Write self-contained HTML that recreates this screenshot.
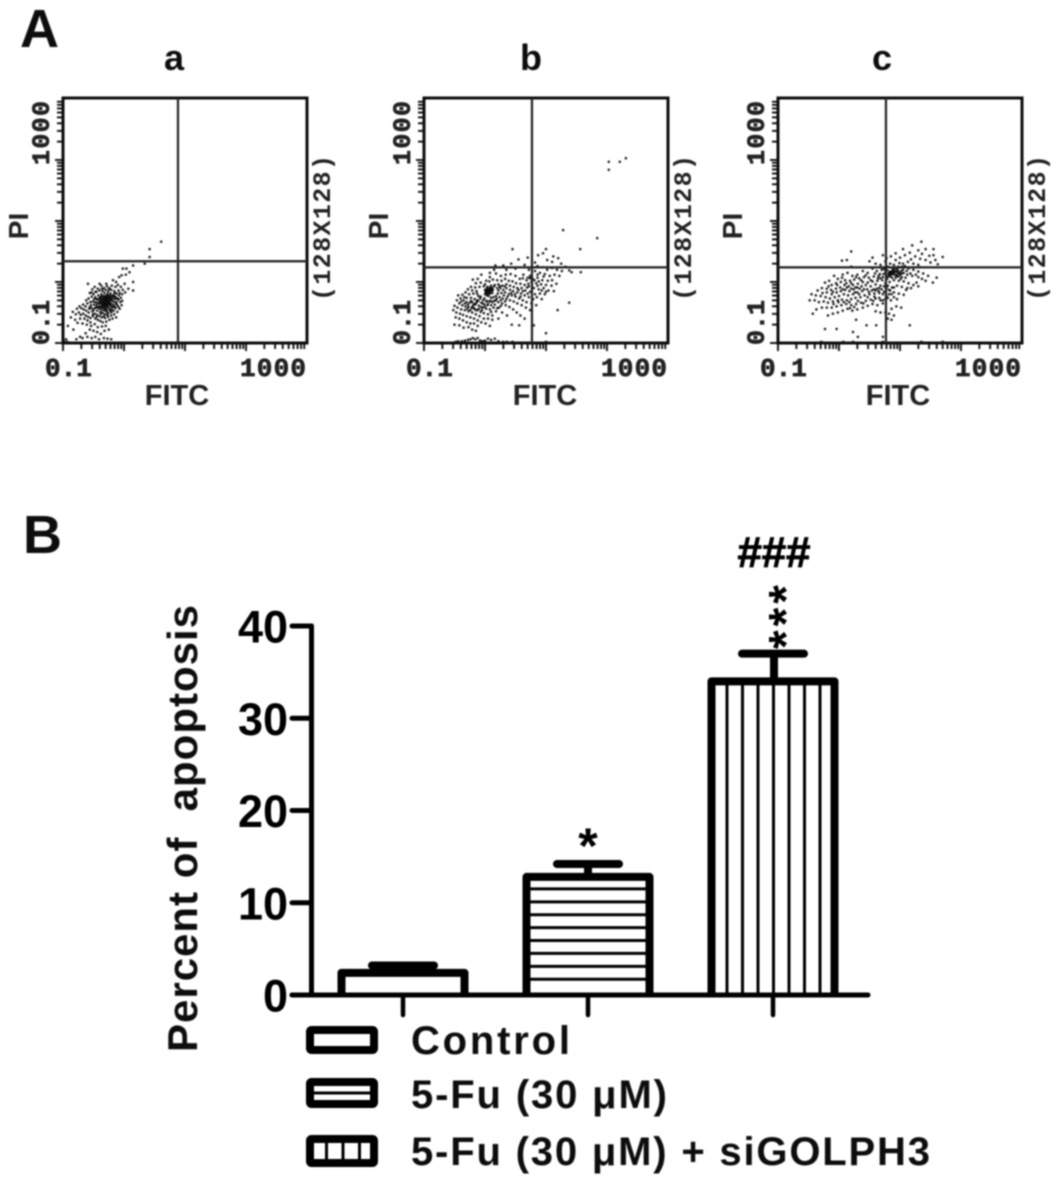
<!DOCTYPE html>
<html lang="en">
<head>
<meta charset="utf-8">
<title>Flow cytometry apoptosis figure</title>
<style>
  html, body { margin: 0; padding: 0; background: #fff; }
  svg { display: block; font-family: "Liberation Sans", sans-serif; }
  .mono { font-family: "Liberation Mono", monospace; }
</style>
</head>
<body>
<svg id="figure" xmlns="http://www.w3.org/2000/svg" width="1063" height="1188" viewBox="0 0 1063 1188">
  <defs>
    <filter id="soft" x="-5%" y="-5%" width="110%" height="110%"><feGaussianBlur stdDeviation="0.7"/></filter>
  </defs>
  <rect width="1063" height="1188" fill="#fff"/>
  <g id="root" filter="url(#soft)">
    <text x="20" y="47" font-size="54" font-weight="bold" fill="#111">A</text>
    <text x="23" y="553" font-size="54" font-weight="bold" fill="#111">B</text>
    <g id="flow"></g>
    <g id="bars"></g>
  </g>
</svg>
<script>
// ---------- Panel A: flow cytometry events, as [log10 FITC, log10 PI] ----------
const flowDecades = [-1, 0, 1, 2];
const flowMultipliers = [1, 2, 3, 4, 5, 6, 7, 8, 9];
const flowXLabels = ["0.1", "1000"];
const flowYLabels = ["0.1", "1000"];
const subplotTitles = ["a", "b", "c"];
const gateA = [0.885, 0.34];
const gateB = [0.77, 0.24];
const gateC = [0.77, 0.24];

const eventsA = [
[.61,.66],[.42,.54],[.42,.41],[.34,.30],[.15,.27],[.04,.22],[-.02,.22],[.09,.16],[-.04,.11],[.15,0],[.15,-.14],[.07,-.11],[.01,-.03],[-.13,0],[-.18,.03],[-.29,-.03],[-.4,-.03],[-.59,-.03],[-.48,-.08],[.03,.12],[-.08,.08],[-.1,-.05],[-.05,-.08],[-.02,-.13],[-.09,-.14],[-.14,-.08],[-.2,-.06],[-.24,-.1],[-.28,-.07],[-.33,-.1],[-.37,-.06],[-.43,-.11],[-.52,-.12],[-.56,-.18],[-.5,-.2],[-.45,-.16],[-.4,-.14],[-.35,-.15],[-.3,-.13],[-.26,-.16],[-.21,-.13],[-.16,-.15],[-.12,-.19],[-.08,-.22],[-.17,-.21],[-.22,-.19],[-.27,-.2],[-.32,-.18],[-.37,-.2],[-.42,-.22],[-.47,-.25],[-.53,-.24],[-.58,-.27],[-.62,-.3],
[-.31,-.34],[-.3,-.33],[-.29,-.32],[-.32,-.33],[-.33,-.35],[-.3,-.35],[-.28,-.34],[-.27,-.31],[-.26,-.3],[-.29,-.3],[-.31,-.31],[-.34,-.32],[-.35,-.34],[-.33,-.37],[-.31,-.37],[-.29,-.36],[-.27,-.36],[-.25,-.33],[-.24,-.29],[-.27,-.28],[-.3,-.28],[-.33,-.29],[-.36,-.31],[-.37,-.35],[-.36,-.38],[-.34,-.4],[-.31,-.39],[-.28,-.39],[-.25,-.37],[-.23,-.34],[-.22,-.3],[-.23,-.26],[-.26,-.25],[-.29,-.25],[-.32,-.26],[-.35,-.27],[-.38,-.28],[-.4,-.32],[-.41,-.36],[-.39,-.4],[-.37,-.42],[-.33,-.43],[-.29,-.42],[-.26,-.41],[-.22,-.39],[-.2,-.36],[-.19,-.31],[-.19,-.27],[-.2,-.23],[-.24,-.22],[-.28,-.22],[-.34,-.23],[-.39,-.25],[-.43,-.29],[-.44,-.34],[-.45,-.38],[-.43,-.42],[-.4,-.44],[-.36,-.46],[-.32,-.47],[-.28,-.46],[-.24,-.44],[-.2,-.42],[-.17,-.38],[-.16,-.33],[-.15,-.28],[-.14,-.24],
[-.1,-.27],[-.12,-.33],[-.11,-.38],[-.14,-.43],[-.17,-.47],[-.21,-.5],[-.26,-.51],[-.31,-.53],[-.35,-.51],[-.39,-.49],[-.44,-.47],[-.48,-.43],[-.49,-.37],[-.51,-.32],[-.55,-.33],[-.54,-.38],[-.53,-.43],[-.52,-.48],[-.48,-.52],[-.44,-.54],[-.4,-.56],[-.36,-.58],[-.31,-.59],[-.26,-.57],[-.21,-.55],[-.16,-.53],[-.11,-.49],[-.07,-.44],[-.04,-.38],[-.03,-.31],[-.05,-.26],[-.6,-.35],[-.63,-.4],[-.67,-.37],[-.7,-.43],[-.66,-.45],[-.62,-.47],[-.58,-.5],[-.57,-.44],[-.73,-.4],[-.77,-.44],[-.74,-.5],[-.71,-.54],[-.67,-.52],[-.63,-.55],[-.59,-.57],[-.55,-.59],[-.51,-.56],[-.47,-.6],[-.43,-.62],[-.39,-.64],[-.35,-.66],[-.29,-.65],[-.24,-.62],[-.19,-.6],[-.13,-.58],[-.55,-.66],[-.6,-.63],[-.65,-.6],[-.72,-.6],[-.79,-.53],[-.84,-.49],[-.87,-.58],[-.8,-.62],[-.76,-.67],[-.68,-.68],[-.61,-.7],[-.54,-.72],[-.48,-.69],[-.43,-.74],[-.36,-.73],[-.3,-.72],[-.92,-.72],[-.83,-.78],[-.56,-.78],[-.5,-.8],[-.44,-.82],[-.38,-.85],[-.32,-.8],[-.25,-.78],[-.63,-.84],[-.72,-.9],[-.78,-.94],[-.68,-.92],[-.6,-.9],[-.53,-.92],[-.47,-.9],[-.41,-.94],[-.33,-.92],[-.27,-.93],[-.21,-.94],[-1,-1],[-.98,-.97],[-.96,-1],[-.93,-.98],[-.95,-.94],[-.9,-1],[-.86,-1],
[-.38,-.31],[-.42,-.41],[-.47,-.33],[-.28,-.49],[-.23,-.47],[-.18,-.41],[-.13,-.36],[-.41,-.27],[-.35,-.41],[-.24,-.36],[-.21,-.27],[-.26,-.33],[-.34,-.36],[-.39,-.34],[-.31,-.44],[-.46,-.42],[-.5,-.46],[-.56,-.41],[-.51,-.53],[-.45,-.57],[-.38,-.52],[-.33,-.56],[-.27,-.54],[-.2,-.46],[-.15,-.41],[-.09,-.41],[-.06,-.33],[-.09,-.29],[-.13,-.27],[-.17,-.24],[-.23,-.23],[-.31,-.23],[-.37,-.24],[-.45,-.28],[-.49,-.28],[-.07,-.18],[-.03,-.2],[.02,-.17],[-.15,-.18],[-.25,-.12],[-.36,-.11],[-.47,-.16],[-.53,-.17]
];

const eventsB = [
[2.03,1.97],[2.03,1.84],[2.21,1.97],[2.31,2.03],[1.28,.85],[1.84,.72],[1.56,.54],[.45,.54],[1.0,.54],[1.38,-.34],[1.19,-.46],[1.0,-.84],[1,-.98],[.8,-.71],[1.57,.16],[1.38,.19],[1.42,.16],[.7,.4],[.55,.37],[.87,.44],[.95,.47],[1.12,.42],[1.2,.39],[1.1,.33],[1.25,.3],[1.32,.25],[1.02,.36],[.82,.32],[.65,.28],[.43,.3],[.3,.27],[.17,.27],[.15,.2],[.08,.15],[.35,.2],[.5,.22],[.72,.2],[.86,.26],[.95,.24],[1.02,.2],[1.1,.23],[1.18,.2],[1.26,.18],[1.22,.1],[1.14,.12],[1.06,.1],[.98,.13],[.9,.15],[.82,.18],[.74,.1],[.78,.05],[.86,.07],[.94,.03],[1.03,.02],[1.1,.03],[1.17,-.03],[1.09,-.06],[1.0,-.05],[.92,-.04],[.84,-.02],[.76,0],[.7,.07],[.63,.12],[.57,.05],[.5,.1],[.42,.13],[.34,.12],[.26,.1],[.18,.14],[.08,.08],[.02,.02],[-.06,.12],[-.12,.05],[-.2,.04],[-.15,-.02],[-.07,-.01],[.0,-.04],[.07,.01],[.13,.04],[.2,.03],[.27,.02],[.33,.05],[.39,.02],[.45,.01],[.51,-.02],[.58,-.03],[.65,-.05],[.72,-.07],[.8,-.1],[.88,-.12],[.96,-.1],[1.04,-.14],[1.13,-.15],[.9,-.19],[.82,-.2],[.74,-.16],[.66,-.14],[.6,-.1],[.53,-.1],[.47,-.08],[.41,-.06],[.35,-.04],[.28,-.06],[.22,-.04],[.16,-.05],[.1,-.06],[.04,-.08],[-.02,-.07],[-.09,-.08],[-.16,-.09],[-.23,-.08],[-.28,-.12],[-.21,-.14],[-.14,-.15],
[.07,-.14],[.08,-.13],[.06,-.15],[.09,-.15],[.05,-.13],[.1,-.12],[.04,-.16],[.07,-.17],[.11,-.15],[.03,-.14],[.06,-.12],[.09,-.11],[.02,-.18],[.05,-.19],[.08,-.19],[.12,-.18],[.13,-.13],[.12,-.1],[.08,-.09],[.03,-.11],[0,-.13],[.01,-.16],[.0,-.2],[.03,-.22],[.06,-.23],[.1,-.26],[.14,-.25],[.18,-.23],[.21,-.19],[.22,-.14],[.25,-.1],[.3,-.13],[.35,-.1],[.41,-.13],[.46,-.15],[.53,-.17],[.59,-.19],[.65,-.22],[.72,-.25],[.79,-.28],[.85,-.25],[.93,-.28],[.98,-.2],[.33,-.17],[.39,-.2],[.44,-.22],[.5,-.24],[.56,-.27],[.62,-.3],[.68,-.33],[.76,-.35],[.84,-.38],[.27,-.18],[.24,-.25],[.29,-.27],[.35,-.28],[.41,-.3],[.47,-.32],[.53,-.35],[.6,-.38],[.67,-.42],[.74,-.46],[.18,-.3],[.22,-.33],[.28,-.35],[.34,-.38],[.4,-.41],[.46,-.45],[.52,-.5],[.58,-.55],[.65,-.6],[.56,-.71],[.44,-.7],[.36,-.55],[.28,-.5],[.23,-.42],[.16,-.37],[.12,-.33],[.07,-.32],[.02,-.32],[-.03,-.3],[-.08,-.27],[-.11,-.23],[-.13,-.19],[-.19,-.19],[-.26,-.2],[-.32,-.17],[-.37,-.21],[-.3,-.26],[-.23,-.26],[-.17,-.28],[-.11,-.31],[-.06,-.34],[-.01,-.37],[.04,-.38],[.1,-.38],[.14,-.42],[.08,-.45],[.02,-.44],[-.04,-.42],[-.1,-.39],[-.15,-.36],[-.18,-.36],[-.21,-.33],[-.25,-.34],[-.3,-.33],[-.35,-.3],[-.4,-.27],[-.44,-.22],[-.46,-.3],[-.42,-.35],[-.37,-.38],[-.32,-.4],[-.27,-.41],[-.22,-.42],[-.17,-.44],[-.12,-.46],[-.07,-.49],[-.02,-.51],[.05,-.53],[.12,-.55],[.18,-.48],[.22,-.6],[.12,-.62],[.05,-.6],[-.02,-.6],[-.09,-.56],[-.15,-.53],[-.21,-.5],[-.27,-.48],[-.33,-.46],[-.39,-.45],[-.45,-.42],[-.5,-.39],[-.52,-.46],[-.47,-.5],[-.41,-.52],[-.36,-.54],[-.3,-.56],[-.24,-.58],[-.18,-.6],[-.12,-.63],[-.06,-.66],[.01,-.68],[.08,-.72],[-.48,-.58],[-.42,-.6],[-.36,-.63],[-.3,-.66],[-.24,-.68],[-.18,-.68],[-.12,-.72],[-.5,-.7],[-.42,-.71],[-.35,-.75],[-.27,-.74],[-.21,-.78],[-.15,-.8],
[-.48,-.98],[-.44,-.97],[-.38,-.97],[-.33,-.96],[-.28,-.95],[-.24,-.94],[-.2,-.92],[-.16,-.94],[-.12,-.92],[-.08,-.96],[-.04,-.97],[.0,-.96],[.05,-.93],[.1,-.95],[.16,-.93],[.22,-.97],[.3,-.98],[.36,-.98],[.45,-.98],
[-.17,-.37],[-.2,-.39],[-.14,-.33],[-.23,-.31],[-.28,-.37],[-.33,-.35],[-.19,-.43],[-.24,-.46],[-.29,-.44],[-.15,-.46],[-.1,-.44],[-.06,-.41],[-.13,-.3],[-.07,-.24],[-.01,-.27],[.03,-.31],[-.04,-.35],[.0,-.41],[.05,-.36],[.09,-.31],[.15,-.31],[.19,-.27],[.26,-.3],[.31,-.22],[.37,-.24],[.43,-.18],[.49,-.2],[.55,-.13],[.62,-.15],[.69,-.09],[.77,-.12],[.86,-.06],[.93,-.14],[1.0,-.16],[.7,-.19],[.58,-.24],[.33,-.32],[.26,-.39],[.2,-.43],[.1,-.49],[-.05,-.46],[-.34,-.25],[-.39,-.32],[.2,-.1],[.15,-.07],[.24,-.07],[.32,-.07],[.68,.03],[.74,.06],[.81,.03],[.88,.01],[.96,.09],[.71,-.03],[.62,.06],[.77,-.05],[.86,.12]
];

const eventsC = [
[1.35,.66],[1.7,.41],[1.16,-.71],[-.29,-.98],[.07,-.98],[.23,-.98],[.72,-.98],[1.35,-.98],[1.7,-.98],[-.23,-.77],[-.04,-.77],[-.43,-.52],[.28,-.62],[.45,-.71],[.61,-.71],[.23,-.82],[.31,-.9],[.72,-.9],[1.2,.6],[1.42,.54],[1.55,.54],[1.55,.44],[1.48,.43],[1.58,.36],[1.62,.29],[1.36,.46],[1.3,.52],[1.05,.54],[.93,.47],[.85,.42],[.72,.44],[.55,.4],[.5,.34],[.2,.5],[.13,.36],[.2,.25],[.05,.35],[.6,.3],[.68,.28],[.76,.34],[.84,.3],[.93,.36],[1.0,.4],[1.08,.44],[1.16,.48],[1.25,.42],[1.33,.38],[1.42,.36],[1.5,.32],[1.3,.28],[1.22,.3],[1.13,.33],[1.05,.3],[.97,.25],[.88,.22],[.8,.25],[.7,.2],[.62,.18],[.55,.22],[.47,.15],[.39,.18],[.3,.12],[.22,.1],[.14,.15],[.06,.12],[-.02,.05],[-.08,.1],[-.16,.02],[-.23,-.01],[-.12,-.05],[-.05,-.02],[.03,0],[.1,.03],[.18,.02],[.25,.04],[.33,.06],[.41,.08],[.49,.07],[.57,.09],[.65,.1],[.73,.13],[.81,.14],[.89,.16],[.97,.17],[1.05,.2],[1.14,.22],[1.22,.2],[1.3,.17],[1.38,.14],[1.46,.1],[1.42,.02],[1.54,-.01],[1.6,.07],[1.3,.08],[1.2,.1],[1.12,.12],[1.03,.08],[.95,.1],[.87,.07],[.79,.05],[.71,.03],[.63,.02],[.55,.01],[.47,-.01],[.39,0],[.31,-.03],[.23,-.05],[.16,-.07],[.09,-.05],[.02,-.09],[-.05,-.11],[-.13,-.13],[-.2,-.11],[-.28,-.1],[-.35,-.14],[-.27,-.18],[-.2,-.17],[-.12,-.2],[-.04,-.17],[.03,-.15],[.1,-.13],[.17,-.15],[.24,-.12],[.3,-.09],[.37,-.07],[.44,-.05],[.52,-.07],[.6,-.04],[.68,-.06],[.76,-.02],[.83,.0],[.9,.03],[.98,.02],[1.06,.01],[1.14,-.02],[1.22,-.05],[1.3,-.07],[1.12,-.1],[1.03,-.08],[.95,-.06],[.87,-.09],[.78,-.1],[.7,-.12],[.62,-.11],[.54,-.14],[.46,-.12],[.38,-.15],[.3,-.17],[.23,-.2],[.15,-.22],[.08,-.2],[0,-.23],[-.07,-.25],[-.15,-.27],[-.22,-.25],[-.3,-.23],[-.38,-.22],[-.45,-.2],[-.48,-.3],[-.4,-.3],[-.33,-.33],[-.25,-.32],[-.18,-.34],[-.1,-.32],[-.02,-.3],[.05,-.29],[.13,-.3],[.2,-.28],[.27,-.26],[.35,-.25],[.42,-.22],[.5,-.2],[.58,-.19],[.66,-.18],[.74,-.16],[.82,-.2],[.9,-.17],[.98,-.19],[1.06,-.21],[.95,-.28],[.85,-.3],[.76,-.28],[.68,-.3],[.6,-.27],[.52,-.29],[.44,-.31],[.36,-.34],[.28,-.36],[.2,-.38],[.12,-.36],[.04,-.38],[-.04,-.4],[-.12,-.42],[-.2,-.42],[-.28,-.42],[-.37,-.45],[.72,-.35],[.63,-.38],[.55,-.36],[.47,-.39],[.39,-.42],[.3,-.45],[.22,-.47],[.14,-.44],[.06,-.47],[-.02,-.5],[-.1,-.52],[-.18,-.55],[.6,-.48],[.68,-.5],[.76,-.5],[.82,-.52],[.9,-.55],[.8,-.6],[.86,-.62],[1.02,-.42],[.94,-.4],[.86,-.44],
[.85,.16],[.86,.17],[.87,.15],[.88,.17],[.84,.15],[.83,.17],[.9,.18],[.92,.16],[.94,.18],[.96,.14],[.98,.16],[1.0,.14],[.82,.12],[.85,.12],[.88,.13],[.91,.12],[.94,.11],[.97,.09],[1.0,.11],[1.03,.14],[1.06,.15],[.8,.09],[.84,.09],[.88,.2],[.92,.22],[.96,.21],[1.0,.24],[1.04,.25],[1.08,.26],[.76,.16],[.72,.08],[.68,.06],[.64,.06],[.6,-.14],[.66,-.1],[.72,-.2],[.78,-.24],[.84,-.14],[.86,-.2],[.8,-.06],
[.93,.07],[1.01,.05],[1.09,.07],[1.17,.14],[1.11,.18],[1.02,.18],[.79,.19],[.74,.21],[.67,.13],[.59,.14],[.52,.03],[.44,.11],[.36,.03],[.28,.08],[.2,-.02],[.12,-.02],[.05,.07],[-.03,-.05],[-.1,-.16],[-.17,-.07],[.06,-.12],[.13,-.09],[.2,-.11],[.27,-.09],[.34,-.11],[.41,-.12],[.49,-.16],[.57,-.12],[.65,-.15],[.74,-.07],[.82,-.13],[.9,-.09],[.58,-.24],[.47,-.25],[.33,-.2],[.26,-.17],[.17,-.33],[.08,-.33],[-.01,-.33],[-.09,-.36],[.4,-.35],[.31,-.31],[.25,-.41],[.18,-.43],[.56,-.31],[.66,-.26],[.72,-.3],[.8,-.26],[.9,-.25],[1.1,-.13],[1.18,-.1],[1.27,-.01],[1.36,.05],[1.26,.12],[1.34,.24],[1.18,.37],[.99,.31],[.9,.28],[.78,.39]
];

// ---------- Panel B: bar chart values ----------
const barCategories = ["Control", "5-Fu (30 μM)", "5-Fu (30 μM) + siGOLPH3"];
const barMeans = [2.4, 12.8, 34];
const barErrors = [0.8, 1.4, 3];
const barAnnotations = ["", "*", "***"];
const yTicks = [0, 10, 20, 30, 40];

const svgNS = "http://www.w3.org/2000/svg";
function make(parent, tag, attrs, text) {
  const n = document.createElementNS(svgNS, tag);
  for (const k in attrs) n.setAttribute(k, attrs[k]);
  if (text !== undefined) n.textContent = text;
  parent.appendChild(n);
  return n;
}

// ---------- Flow panels ----------
const flowSize = 244;
const decadePx = flowSize / 4;
const monoStroke = {stroke: "#222", "stroke-width": 0.7};
function drawFlow(parent, left, top, events, gate, title, titleX, fitcX, piX) {
  const right = left + flowSize, bottom = top + flowSize + 1;
  const fx = v => left + (v + 1) * decadePx;
  const fy = v => bottom - (v + 1) * decadePx;
  const g = make(parent, "g", {});
  
  

  const t = make(g, "text", {x: titleX, y: 70, "font-size": 36, "font-weight": "bold", "text-anchor": "middle", fill: "#111"}, title);
  
  

  const dots = make(g, "g", {fill: "#111"});
  
  
  events.forEach(e => {
    const d = make(dots, "rect", {x: (fx(e[0]) - 1.1).toFixed(1), y: (fy(e[1]) - 1.1).toFixed(1), width: 2.2, height: 2.2});
    
    
  });

  const box = make(g, "rect", {x: left, y: top, width: flowSize, height: flowSize + 1, fill: "none", stroke: "#111", "stroke-width": 3});
  
  
  const gv = make(g, "line", {x1: fx(gate[0]), x2: fx(gate[0]), y1: top, y2: bottom, stroke: "#222", "stroke-width": 2.2});
  
  
  const gh = make(g, "line", {x1: left, x2: right, y1: fy(gate[1]), y2: fy(gate[1]), stroke: "#222", "stroke-width": 2.2});
  
  

  const ticks = make(g, "g", {stroke: "#111", "stroke-width": 1.9});
  
  
  flowDecades.forEach(dec => flowMultipliers.forEach(m => {
    const p = dec + Math.log10(m), len = m === 1 ? 8 : 6;
    make(ticks, "line", {x1: fx(p), x2: fx(p), y1: bottom, y2: bottom + len});
    make(ticks, "line", {x1: left, x2: left - len, y1: fy(p), y2: fy(p)});
  }));

  const xl0 = make(g, "text", Object.assign({x: left - 18, y: 376, class: "mono", "font-size": 26, "font-weight": "bold", fill: "#222"}, monoStroke), flowXLabels[0]);
  
  
  const xl1 = make(g, "text", Object.assign({x: left + 177, y: 376, class: "mono", "font-size": 26, "font-weight": "bold", fill: "#222", textLength: 66}, monoStroke), flowXLabels[1]);
  
  
  const yl0 = make(g, "text", Object.assign({transform: "translate(" + (left - 14) + ",345) rotate(-90)", class: "mono", "font-size": 25, "font-weight": "bold", fill: "#222"}, monoStroke), flowYLabels[0]);
  
  
  const yl1 = make(g, "text", Object.assign({transform: "translate(" + (left - 14) + ",165) rotate(-90)", class: "mono", "font-size": 25, "font-weight": "bold", fill: "#222", textLength: 64}, monoStroke), flowYLabels[1]);
  
  

  const xt = make(g, "text", {x: fitcX, y: 405, "font-size": 29, "font-weight": "bold", "text-anchor": "middle", fill: "#222"}, "FITC");
  
  
  const yt = make(g, "text", {transform: "translate(" + piX + ",226) rotate(-90)", "font-size": 28, "font-weight": "bold", "text-anchor": "middle", fill: "#222"}, "PI");
  
  
  const res = make(g, "text", {transform: "translate(" + (right + 23) + ",301) rotate(-90)", class: "mono", "font-size": 25, "font-weight": "bold", fill: "#222", textLength: 146}, "(128X128)");
  
  
}
const flowRoot = document.getElementById("flow");
drawFlow(flowRoot, 63, 98, eventsA, gateA, subplotTitles[0], 174, 177, 28);
drawFlow(flowRoot, 424, 98, eventsB, gateB, subplotTitles[1], 531, 545, 388);
drawFlow(flowRoot, 778, 98, eventsC, gateC, subplotTitles[2], 882, 898, 742);

// ---------- Bar chart ----------
const barsRoot = document.getElementById("bars");
const axisY0 = 995, axisX = 311.5, unitPx = 9.225;
const valY = v => axisY0 - v * unitPx;
const catX = i => 403 + 185 * i;
const barHalf = 61.5;

const axes = make(barsRoot, "g", {stroke: "#000", "stroke-width": 5, "stroke-linecap": "round", fill: "none"});


const yAxis = make(axes, "line", {x1: axisX, x2: axisX, y1: valY(40), y2: axisY0});


const xAxis = make(axes, "line", {x1: 292, x2: 868, y1: axisY0, y2: axisY0});



yTicks.forEach(v => {
  const tk = make(axes, "line", {x1: 292, x2: axisX, y1: valY(v), y2: valY(v)});
  
  
  const lb = make(barsRoot, "text", {x: 288, y: valY(v) + 16.5, "font-size": 45, "font-weight": "bold", "text-anchor": "end", fill: "#000"}, String(v));
  
  
});

barCategories.forEach((name, i) => {
  const cx = catX(i), top = valY(barMeans[i]);
  const g = make(barsRoot, "g", {});
  
  
  if (i === 1) {
    for (let y = top + 12; y < axisY0 - 6; y += 12.9) {
      const l = make(g, "line", {x1: cx - barHalf, x2: cx + barHalf, y1: y, y2: y, stroke: "#000", "stroke-width": 3});
      
      
    }
  }
  if (i === 2) {
    for (let x = cx - barHalf + 15.5; x < cx + barHalf - 6; x += 15.5) {
      const l = make(g, "line", {x1: x, x2: x, y1: top, y2: axisY0, stroke: "#000", "stroke-width": 3});
      
      
    }
  }
  const outline = make(g, "path", {d: "M" + (cx - barHalf) + " " + axisY0 + "V" + top + "H" + (cx + barHalf) + "V" + axisY0, fill: "none", stroke: "#000", "stroke-width": 8, "stroke-linejoin": "round"});
  
  
  const capY = valY(barMeans[i] + barErrors[i]);
  const stem = make(g, "line", {x1: cx + (i === 2 ? 1 : 0), x2: cx + (i === 2 ? 1 : 0), y1: top, y2: capY, stroke: "#000", "stroke-width": 8});
  
  
  const cap = make(g, "line", {x1: cx - 31, x2: cx + 31, y1: capY, y2: capY, stroke: "#000", "stroke-width": 8, "stroke-linecap": "round"});
  
  
  const tick = make(g, "line", {x1: cx, x2: cx, y1: axisY0, y2: axisY0 + 20, stroke: "#000", "stroke-width": 4.5, "stroke-linecap": "round"});
  
  
});

const star1 = make(barsRoot, "text", {x: catX(1), y: 863, "font-size": 50, "font-weight": "bold", "text-anchor": "middle", fill: "#000"}, barAnnotations[1]);


const star3 = make(barsRoot, "text", {transform: "translate(802,649) rotate(-90)", "font-size": 48, "font-weight": "bold", fill: "#000", textLength: 64}, barAnnotations[2]);


const hash = make(barsRoot, "text", {x: 774, y: 567, "font-size": 44, "font-weight": "bold", "text-anchor": "middle", fill: "#000", stroke: "#000", "stroke-width": 0.8, textLength: 73}, "###");



const yTitle = make(barsRoot, "text", {transform: "translate(197,1052) rotate(-90)", "font-size": 42, "font-weight": "bold", fill: "#111", textLength: 447}, "Percent of\u00a0 apoptosis");



// ---------- Legend ----------
const legend = make(barsRoot, "g", {});


const legendTextWidths = [159, 256, 519];
const legendRowTop = i => [1030, 1082, 1139][i];
const legendRowH = [20, 22, 24];
barCategories.forEach((name, i) => {
  const y = legendRowTop(i);
  const row = make(legend, "g", {});
  
  
  if (i === 1) {
    const h = make(row, "line", {x1: 310, x2: 374, y1: y + 11, y2: y + 11, stroke: "#000", "stroke-width": 3});
    
    
  }
  if (i === 2) {
    for (let j = 1; j <= 3; j++) {
      const v = make(row, "line", {x1: 310 + j * 16.5, x2: 310 + j * 16.5, y1: y, y2: y + legendRowH[i], stroke: "#000", "stroke-width": 3});
      
      
    }
  }
  const sw = make(row, "rect", {x: 310, y: y, width: 64, height: legendRowH[i], fill: "none", stroke: "#000", "stroke-width": 8, rx: 1.5});
  
  
  const tx = make(row, "text", {x: 411, y: [1054, 1108, 1165][i], "font-size": 40, "font-weight": "bold", fill: "#111", textLength: legendTextWidths[i]}, name);
  
  
});
</script>
</body>
</html>
